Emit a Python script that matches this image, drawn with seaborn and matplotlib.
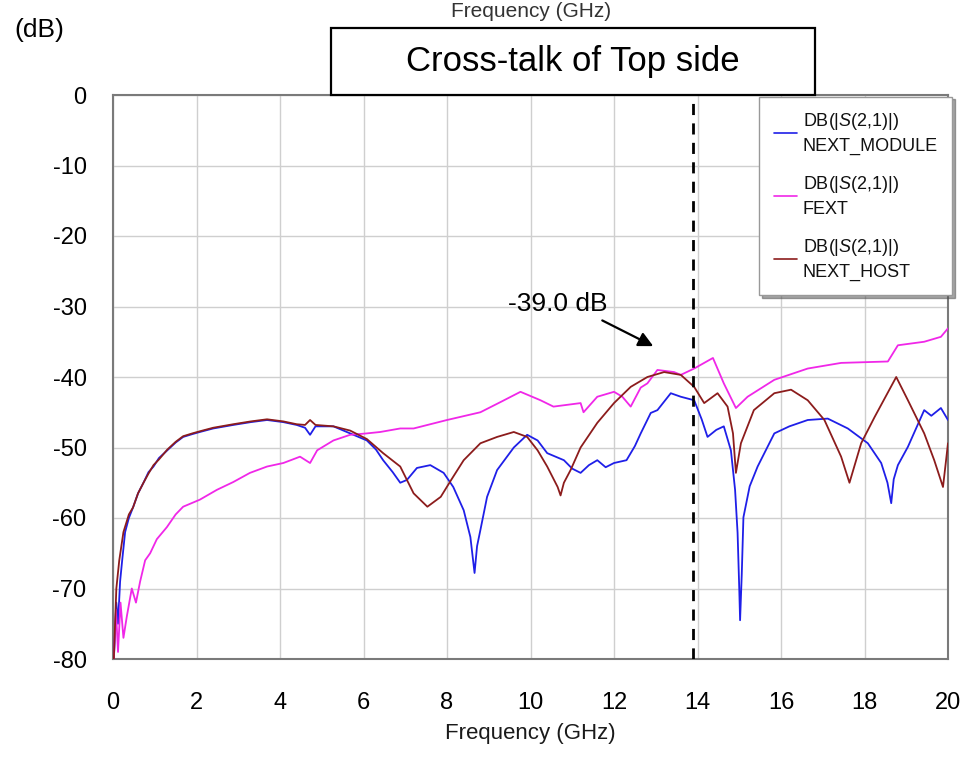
import matplotlib
matplotlib.use("Agg")
import matplotlib.pyplot as plt
from matplotlib.patches import Rectangle
import pandas as pd
import seaborn as sns

# ---- traces: frequency (GHz) and magnitude (dB) ----
next_module_f = [0.02, 0.08, 0.12, 0.17, 0.22, 0.29, 0.38, 0.48, 0.6, 0.73, 0.85, 0.97, 1.1, 1.3,
                 1.5, 1.68, 1.9, 2.08, 2.4, 2.88, 3.3, 3.69, 4.08, 4.4, 4.6, 4.72, 4.85, 5.28,
                 5.68, 6.08, 6.3, 6.47, 6.7, 6.88, 7.04, 7.28, 7.6, 7.92, 8.15, 8.4, 8.56, 8.66,
                 8.72, 8.8, 8.96, 9.2, 9.6, 9.92, 10.17, 10.4, 10.8, 11.0, 11.2, 11.4, 11.6, 11.8,
                 12.0, 12.3, 12.5, 12.64, 12.88, 13.04, 13.36, 13.6, 13.92, 14.1, 14.24, 14.45,
                 14.63, 14.8, 14.9, 14.96, 15.0, 15.02, 15.06, 15.1, 15.25, 15.44, 15.84, 16.2,
                 16.64, 17.12, 17.6, 18.08, 18.4, 18.55, 18.64, 18.7, 18.8, 19.04, 19.43, 19.6,
                 19.83, 20.0]
next_module_db = [-80, -72, -75, -69, -66, -62, -60, -58.5, -56.5, -55, -53.5, -52.7, -51.5, -50.4,
                  -49.3, -48.5, -48.1, -47.8, -47.3, -46.8, -46.4, -46.1, -46.4, -46.8, -47.2, -48.2,
                  -47.0, -47.0, -48.0, -49.0, -50.3, -51.8, -53.5, -55, -54.6, -52.9, -52.5, -53.6,
                  -55.6, -58.9, -62.7, -67.8, -64, -61.7, -57, -53.2, -50, -48.2, -49, -50.8, -51.8,
                  -53.0, -53.6, -52.5, -51.8, -52.8, -52.2, -51.8, -49.8, -48.0, -45.1, -44.7, -42.3,
                  -42.8, -43.3, -46, -48.5, -47.5, -47.0, -50.4, -56, -62.1, -70, -74.5, -68, -59.9,
                  -55.5, -52.7, -48, -47, -46.1, -45.9, -47.3, -49.4, -52.2, -55, -57.9, -54.5, -52.5,
                  -49.9, -44.7, -45.5, -44.4, -46.1]

fext_f = [0.02, 0.07, 0.12, 0.18, 0.25, 0.33, 0.45, 0.55, 0.65, 0.77, 0.89, 1.05, 1.29, 1.5, 1.68,
          2.08, 2.49, 2.88, 3.28, 3.69, 4.08, 4.48, 4.72, 4.89, 5.28, 5.68, 6.08, 6.4, 6.88, 7.2,
          8.0, 8.8, 9.3, 9.76, 10.24, 10.55, 11.2, 11.27, 11.6, 12.0, 12.2, 12.4, 12.64, 12.8,
          13.04, 13.44, 13.6, 13.92, 14.37, 14.63, 14.92, 15.2, 15.84, 16.64, 17.44, 18.56, 18.8,
          19.43, 19.83, 20.0]
fext_db = [-80, -73, -79, -72, -77, -74, -70, -72, -69, -66, -65, -63, -61.3, -59.5, -58.4, -57.4,
           -56, -54.9, -53.6, -52.7, -52.2, -51.3, -52.2, -50.4, -49, -48.2, -48, -47.8, -47.3,
           -47.3, -46.1, -45, -43.5, -42.1, -43.3, -44.2, -43.7, -45, -42.8, -42.1, -42.8, -44.2,
           -41.5, -40.9, -39, -39.3, -39.7, -38.8, -37.3, -40.9, -44.4, -42.8, -40.4, -38.8, -38,
           -37.8, -35.5, -35, -34.3, -33.1]

next_host_f = [0.02, 0.08, 0.15, 0.25, 0.38, 0.48, 0.6, 0.73, 0.85, 0.97, 1.1, 1.3, 1.5, 1.68, 1.9,
               2.08, 2.4, 2.88, 3.3, 3.69, 4.08, 4.4, 4.6, 4.72, 4.85, 5.28, 5.68, 6.08, 6.47, 6.88,
               7.2, 7.53, 7.85, 8.1, 8.4, 8.8, 9.2, 9.6, 9.92, 10.17, 10.4, 10.65, 10.72, 10.8,
               10.96, 11.2, 11.6, 12.0, 12.4, 12.8, 13.2, 13.6, 13.92, 14.16, 14.48, 14.72, 14.85,
               14.92, 15.04, 15.35, 15.84, 16.24, 16.64, 17.04, 17.44, 17.64, 17.92, 18.24, 18.76,
               19.04, 19.43, 19.67, 19.88, 19.95, 20.0]
next_host_db = [-80, -70, -66, -62, -59.5, -58.5, -56.5, -55, -53.7, -52.5, -51.7, -50.3, -49.2,
                -48.4, -48.0, -47.7, -47.2, -46.7, -46.3, -46.0, -46.3, -46.7, -46.8, -46.1, -46.8,
                -47.0, -47.6, -48.8, -50.8, -52.7, -56.5, -58.4, -57, -54.6, -51.8, -49.4, -48.5,
                -47.8, -48.5, -50.4, -52.7, -55.6, -56.8, -55, -53.2, -50, -46.5, -43.7, -41.4, -40,
                -39.3, -39.7, -41.4, -43.7, -42.3, -44.2, -48, -53.6, -49.4, -44.7, -42.3, -41.8,
                -43.3, -46.1, -51.3, -55, -49.4, -45.7, -40, -43.3, -48, -51.8, -55.6, -52, -49.4]

trace_labels = [r"DB(|$\mathit{S}$(2,1)|)" + "\nNEXT_MODULE",
                r"DB(|$\mathit{S}$(2,1)|)" + "\nFEXT",
                r"DB(|$\mathit{S}$(2,1)|)" + "\nNEXT_HOST"]
trace_colors = ["#1f1fe8", "#f027e8", "#8c1c1c"]

x_ticks = [0, 2, 4, 6, 8, 10, 12, 14, 16, 18, 20]
y_ticks = [0, -10, -20, -30, -40, -50, -60, -70, -80]
marker_freq = 13.9
peak_label = "-39.0 dB"

df = pd.concat([
    pd.DataFrame({"freq": next_module_f, "db": next_module_db, "trace": trace_labels[0]}),
    pd.DataFrame({"freq": fext_f, "db": fext_db, "trace": trace_labels[1]}),
    pd.DataFrame({"freq": next_host_f, "db": next_host_db, "trace": trace_labels[2]}),
], ignore_index=True)

sns.set_theme(style="white")
plt.rcParams["font.family"] = ["Liberation Sans", "DejaVu Sans"]
plt.rcParams["mathtext.fontset"] = "custom"
plt.rcParams["mathtext.it"] = "Liberation Sans:italic"
plt.rcParams["mathtext.rm"] = "Liberation Sans"
plt.rcParams["axes.unicode_minus"] = False
plt.rcParams["text.color"] = "black"
plt.rcParams["axes.labelcolor"] = "black"

fig = plt.figure(figsize=(9.65, 7.57), dpi=100, facecolor="white")
ax = fig.add_axes([113 / 965, 1 - 659 / 757, 835 / 965, 564 / 757])
ax.set_facecolor("white")

sns.lineplot(data=df, x="freq", y="db", hue="trace", hue_order=trace_labels,
             palette=dict(zip(trace_labels, trace_colors)), estimator=None,
             linewidth=1.3, ax=ax, zorder=3)

ax.set_xlim(0, 20)
ax.set_ylim(-80, 0)
ax.set_xticks(x_ticks)
ax.set_yticks(y_ticks)
ax.grid(True, color="#cfcfcf", linewidth=1.0)
ax.tick_params(axis="both", length=0, labelsize=17, colors="black")
ax.tick_params(axis="y", pad=19)
ax.tick_params(axis="x", pad=24)
for s in ax.spines.values():
    s.set_color("#7a7a7a")
    s.set_linewidth(1.5)

ax.set_xlabel("Frequency (GHz)", fontsize=16, labelpad=6, color="#1a1a1a")
ax.set_ylabel("")

# marker line
ax.axvline(marker_freq, color="black", linestyle=(0, (4, 3)), linewidth=2, zorder=4)

# peak annotation
ax.text(10.65, -29.6, peak_label, fontsize=19, ha="center", va="center", zorder=5)
ax.annotate("", xy=(13.0, -35.8), xytext=(11.66, -31.8),
            arrowprops=dict(arrowstyle="-|>", color="black", lw=1.6, mutation_scale=22),
            zorder=5)

leg = ax.legend(loc="upper right", bbox_to_anchor=(1.005, 0.997), fontsize=13,
                frameon=True, fancybox=False, shadow=True, edgecolor="#999999",
                handlelength=1.3, handletextpad=0.3, labelspacing=1.1,
                borderpad=0.8, borderaxespad=0)
leg.get_frame().set_linewidth(1.0)
for t in leg.get_texts():
    t.set_linespacing(1.4)
    t.set_color("#111111")
for h in leg.get_lines():
    h.set_linewidth(1.2)
leg.set_zorder(6)

# title box
fig.patches.append(Rectangle((331 / 965, 1 - 95 / 757), 484 / 965, 67 / 757,
                             transform=fig.transFigure, facecolor="white",
                             edgecolor="black", linewidth=1.6, zorder=10))
fig.text(573 / 965, 1 - 62 / 757, "Cross-talk of Top side", fontsize=25,
         ha="center", va="center", zorder=11)

fig.text(14 / 965, 1 - 30 / 757, "(dB)", fontsize=19, ha="left", va="center")
fig.text(531 / 965, 1 - 2 / 757, "Frequency (GHz)", fontsize=15, ha="center",
         va="top", color="#333333")

fig.savefig("out.png", dpi=100, facecolor="white")
